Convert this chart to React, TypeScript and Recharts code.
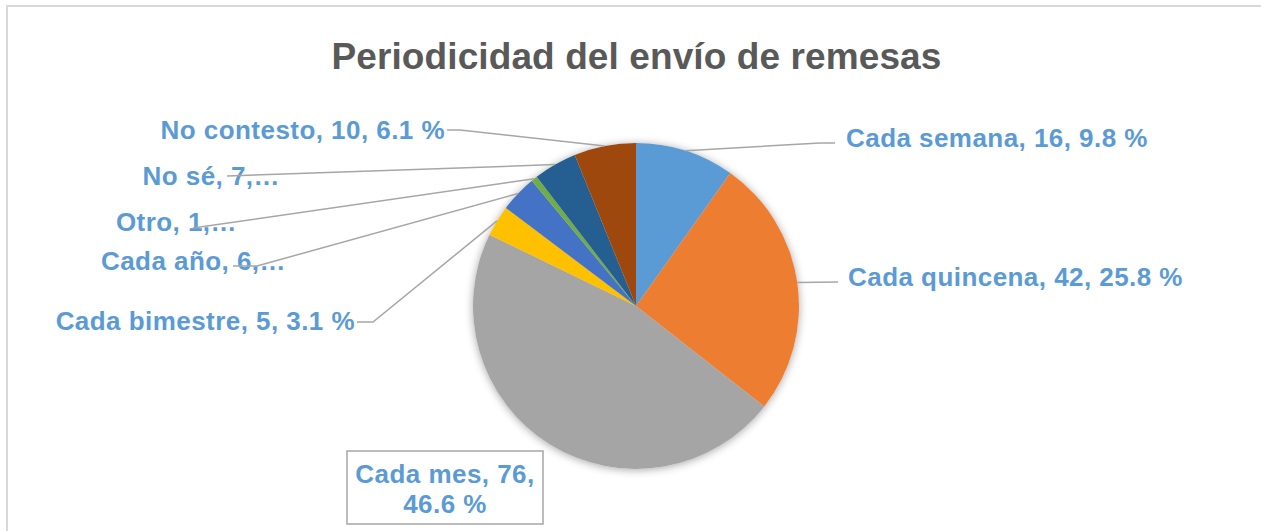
import React from "react";
import { PieChart, Pie, Cell } from "recharts";

const CATEGORIES = [
  "Cada semana", "Cada quincena", "Cada mes", "Cada bimestre",
  "Cada año", "Otro", "No sé", "No contesto",
];
const COUNTS = [16, 42, 76, 5, 6, 1, 7, 10];
const COLORS = ["#5B9BD5", "#ED7D31", "#A5A5A5", "#FFC000", "#4472C4", "#70AD47", "#255E91", "#9E480E"];
// Excel cut these labels short
const TRUNCATED = [false, false, false, false, true, true, true, false];

const TITLE = "Periodicidad del envío de remesas";
const TOTAL = COUNTS.reduce((a, b) => a + b, 0);
const data = CATEGORIES.map((name, i) => ({ name, value: COUNTS[i] }));

const W = 1261;
const H = 531;
const FONT = "'Liberation Sans', Arial, Helvetica, sans-serif";
const LABEL_COLOR = "#5B9BD5";
const LEADER = "#A6A6A6";
const RAD = Math.PI / 180;

// where Excel put each data label, with the bends of its leader line
type Layout = { x: number; y: number; anchor: "start" | "end" | "middle"; bends: number[][]; box?: boolean };
const LABEL_LAYOUT: Layout[] = [
  { x: 846, y: 147, anchor: "start", bends: [[820, 143], [835, 143]] },
  { x: 848, y: 286, anchor: "start", bends: [[838, 282]] },
  { x: 445, y: 483, anchor: "middle", bends: [], box: true },
  { x: 355, y: 330, anchor: "end", bends: [[373, 322], [357, 322]] },
  { x: 286, y: 270, anchor: "end", bends: [[257, 266], [233, 266]] },
  { x: 237, y: 231, anchor: "end", bends: [[193, 228]] },
  { x: 280, y: 185, anchor: "end", bends: [[227, 176]] },
  { x: 445, y: 139, anchor: "end", bends: [[460, 130], [447, 130]] },
];

const pct = (v: number) => `${((v / TOTAL) * 100).toFixed(1)} %`;

function renderLabel(props: any) {
  const { cx, cy, midAngle, outerRadius, index, value, name } = props;
  const lay = LABEL_LAYOUT[index];
  const ax = cx + outerRadius * Math.cos(-midAngle * RAD);
  const ay = cy + outerRadius * Math.sin(-midAngle * RAD);
  const textStyle = { fontFamily: FONT, fontWeight: 700, fontSize: 26, fill: LABEL_COLOR, letterSpacing: 0.45 };

  if (lay.box) {
    return (
      <g key={`lbl-${index}`}>
        <rect x={347} y={451} width={196} height={73} fill="#fff" stroke="#A6A6A6" strokeWidth={1.5} />
        <text x={lay.x} y={lay.y} textAnchor="middle" style={textStyle}>{`${name}, ${value},`}</text>
        <text x={lay.x} y={lay.y + 30} textAnchor="middle" style={textStyle}>{pct(value)}</text>
      </g>
    );
  }

  const txt = TRUNCATED[index] ? `${name}, ${value},…` : `${name}, ${value}, ${pct(value)}`;
  const pts = [[ax, ay], ...lay.bends].map((p) => p.join(",")).join(" ");
  return (
    <g key={`lbl-${index}`}>
      <text x={lay.x} y={lay.y} textAnchor={lay.anchor} style={textStyle}>{txt}</text>
      <polyline points={pts} fill="none" stroke={LEADER} strokeWidth={1.5} />
    </g>
  );
}

export default function App() {
  return (
    <div style={{ position: "absolute", left: 0, top: 0, width: W, height: H, background: "#fff", overflow: "hidden" }}>
      <div style={{ position: "absolute", left: 6, top: 5, width: W + 40, height: H + 40, border: "2px solid #D9D9D9", boxSizing: "border-box" }} />
      <div style={{
        position: "absolute", left: 0, top: 38, width: 1273, textAlign: "center",
        fontFamily: FONT, fontWeight: 700, fontSize: 37, lineHeight: "37px", color: "#595959", letterSpacing: 0.1,
      }}>{TITLE}</div>
      <div style={{ position: "absolute", left: 0, top: 0 }}>
        <PieChart width={W} height={H} margin={{ top: 0, right: 0, bottom: 0, left: 0 }}>
          {/* shadow layer underneath */}
          <Pie data={data} dataKey="value" nameKey="name" cx={636} cy={306} outerRadius={163}
            startAngle={90} endAngle={-270} stroke="none" isAnimationActive={false} label={false} labelLine={false}>
            {data.map((_, i) => (
              <Cell key={i} fill="#fff" style={{ filter: "drop-shadow(0px 1px 4px rgba(0,0,0,0.35))" }} />
            ))}
          </Pie>
          <Pie data={data} dataKey="value" nameKey="name" cx={636} cy={306} outerRadius={163}
            startAngle={90} endAngle={-270} stroke="none" isAnimationActive={false}
            label={renderLabel} labelLine={false}>
            {data.map((_, i) => <Cell key={i} fill={COLORS[i]} />)}
          </Pie>
        </PieChart>
      </div>
    </div>
  );
}
